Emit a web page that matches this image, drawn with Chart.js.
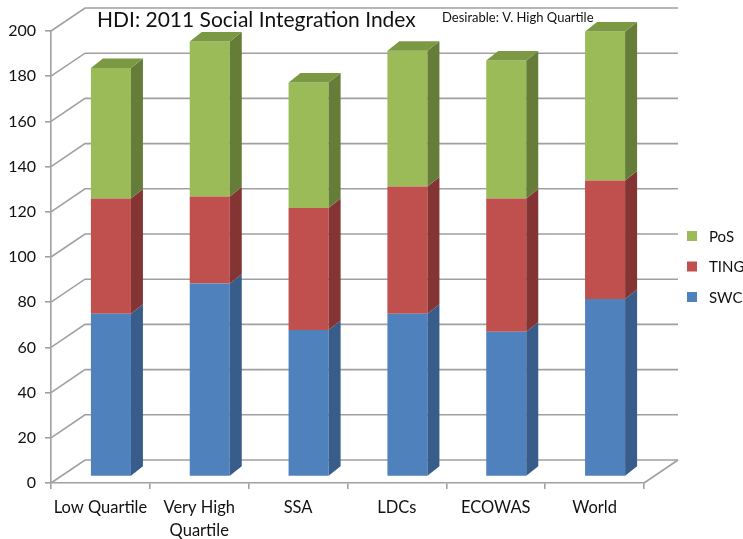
<!DOCTYPE html>
<html lang="en">

<head>
  <meta charset="UTF-8" />
  <title>HDI: 2011 Social Integration Index</title>
  <script src="https://cdn.jsdelivr.net/npm/chart.js"></script>
  <style>
    body { margin: 0; background: #fff; }
    .wrap { width: 743px; height: 539px; position: relative; }
  </style>
</head>

<body>
  <div class="wrap">
    <canvas id="grafico"></canvas>
  </div>

  <script>
    const categorias = ['Low Quartile', ['Very High', 'Quartile'], 'SSA', 'LDCs', 'ECOWAS', 'World'];
    const swc = [72, 85.4, 64.8, 72, 64, 78.5];
    const ting = [51, 38.5, 54, 56.3, 59, 52.5];
    const pos = [57.8, 68.6, 55.5, 60.1, 61.1, 65.9];
    const yMin = 0, yMax = 200, yStep = 20;

    const corGrade = '#a0a0a0';
    // profundidade das paredes, deslocamento das barras e espessura das barras
    const parede = { dx: 34, dy: -23 };
    const recuo = { dx: 10.5, dy: -6.5 };
    const fundo = { dx: 12, dy: -9.5 };

    const cena3d = {
      id: 'cena3d',
      beforeDatasetsDraw(chart) {
        const { ctx, chartArea: a, scales: { y } } = chart;
        ctx.save();
        ctx.strokeStyle = corGrade;
        ctx.lineWidth = 1.6;
        y.ticks.forEach(t => {
          const py = y.getPixelForValue(t.value);
          ctx.beginPath();
          ctx.moveTo(a.left, py);
          ctx.lineTo(a.left + parede.dx, py + parede.dy);
          ctx.lineTo(a.right + parede.dx, py + parede.dy);
          ctx.stroke();
        });
        ctx.beginPath();
        ctx.moveTo(a.right, a.bottom);
        ctx.lineTo(a.right + parede.dx, a.bottom + parede.dy);
        ctx.stroke();
        ctx.restore();

        ctx.save();
        ctx.translate(recuo.dx, recuo.dy);
      },
      afterDatasetsDraw(chart) {
        const { ctx } = chart;
        const ultimo = chart.data.datasets.length - 1;
        chart.data.datasets.forEach((ds, i) => {
          chart.getDatasetMeta(i).data.forEach(bar => {
            const { x, y, base, width } = bar.getProps(['x', 'y', 'base', 'width'], true);
            const l = x - width / 2, r = x + width / 2;
            ctx.fillStyle = ds.corLado;
            ctx.beginPath();
            ctx.moveTo(r, y);
            ctx.lineTo(r + fundo.dx, y + fundo.dy);
            ctx.lineTo(r + fundo.dx, base + fundo.dy);
            ctx.lineTo(r, base);
            ctx.closePath();
            ctx.fill();
            if (i === ultimo) {
              ctx.fillStyle = ds.corTopo;
              ctx.beginPath();
              ctx.moveTo(l, y);
              ctx.lineTo(l + fundo.dx, y + fundo.dy);
              ctx.lineTo(r + fundo.dx, y + fundo.dy);
              ctx.lineTo(r, y);
              ctx.closePath();
              ctx.fill();
            }
          });
        });
        ctx.restore();
      },
      afterDraw(chart) {
        const { ctx } = chart;
        ctx.save();
        ctx.fillStyle = '#111';
        ctx.textBaseline = 'alphabetic';
        ctx.font = '21px Lato';
        ctx.fillText('HDI: 2011 Social Integration Index', 97, 27);
        ctx.font = '13px Lato';
        ctx.fillText('Desirable: V. High Quartile', 442, 22);

        // legenda, de cima para baixo: PoS, TING, SWC
        ctx.font = '15px Lato';
        ctx.textBaseline = 'middle';
        const itens = chart.data.datasets.slice().reverse();
        itens.forEach((ds, k) => {
          const cy = 236 + k * 30.5;
          ctx.fillStyle = ds.backgroundColor;
          ctx.fillRect(687, cy - 5, 10, 10);
          ctx.fillStyle = '#111';
          ctx.fillText(ds.label, 709, cy + 1);
        });
        ctx.restore();
      }
    };

    Chart.defaults.font.family = 'Lato';
    Chart.defaults.color = '#111';

    new Chart(document.getElementById('grafico'), {
      type: 'bar',
      data: {
        labels: categorias,
        datasets: [
          { label: 'SWC', data: swc, backgroundColor: '#4f81bd', corLado: '#385d8a', clip: false },
          { label: 'TING', data: ting, backgroundColor: '#c0504d', corLado: '#843432', clip: false },
          { label: 'PoS', data: pos, backgroundColor: '#9bbb59', corLado: '#657d38', corTopo: '#7b9842', clip: false }
        ]
      },
      options: {
        responsive: true,
        maintainAspectRatio: false,
        animation: false,
        layout: { padding: { top: 31, right: 99, left: 0, bottom: 0 } },
        datasets: {
          bar: { categoryPercentage: 1, barPercentage: 0.405, borderWidth: 0 }
        },
        plugins: {
          legend: { display: false },
          tooltip: { enabled: false }
        },
        scales: {
          x: {
            stacked: true,
            afterFit(s) { s.height = 56; },
            grid: { offset: true, drawOnChartArea: false, tickLength: 6, color: corGrade, lineWidth: 1.6 },
            border: { color: corGrade, width: 1.6 },
            ticks: { font: { size: 16.5, lineHeight: 1.4 }, padding: 7, maxRotation: 0, autoSkip: false }
          },
          y: {
            stacked: true,
            min: yMin,
            max: yMax,
            afterFit(s) { s.width = 51; },
            grid: { drawOnChartArea: false, tickLength: 6, color: corGrade, lineWidth: 1.6 },
            border: { color: corGrade, width: 1.6 },
            ticks: { stepSize: yStep, font: { size: 16 }, padding: 9 }
          }
        }
      },
      plugins: [cena3d]
    });
  </script>
</body>

</html>
